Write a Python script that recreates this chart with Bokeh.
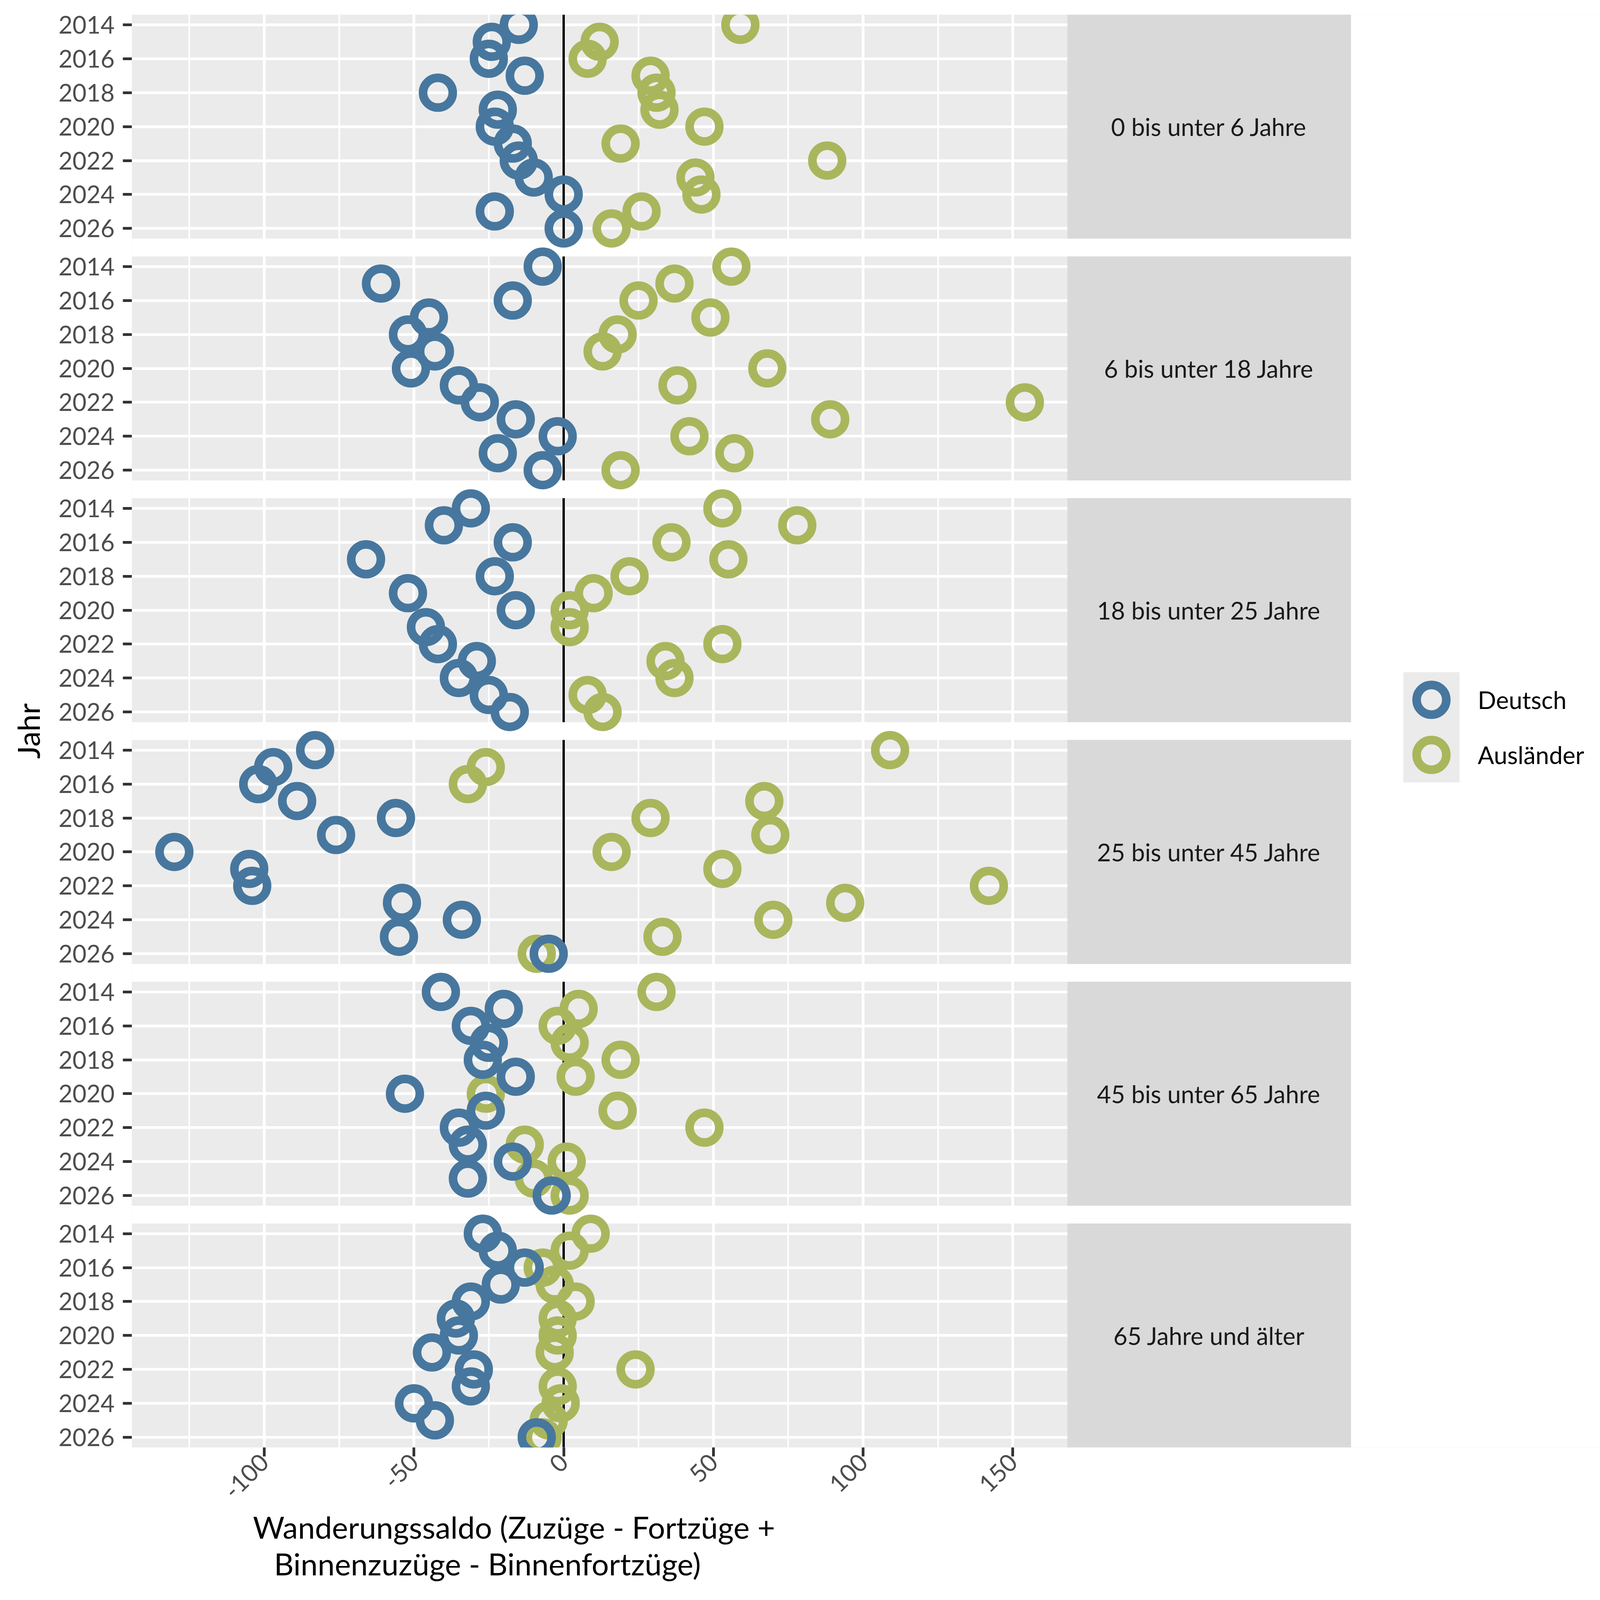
import math
from bokeh.plotting import figure
from bokeh.models import (ColumnDataSource, Range1d, FixedTicker, Legend, LegendItem, Title)
from bokeh.core.properties import value
from bokeh.embed import file_html
from bokeh.resources import INLINE

# ---------------- data ----------------
years = list(range(2014, 2027))
age_groups = ["0 bis unter 6 Jahre", "6 bis unter 18 Jahre", "18 bis unter 25 Jahre",
              "25 bis unter 45 Jahre", "45 bis unter 65 Jahre", "65 Jahre und älter"]
series_names = ["Deutsch", "Ausländer"]

deutsch_0_6 = [-15, -24, -25, -13, -42, -22, -23, -17, -15, -10, 0, -23, 0]
auslaender_0_6 = [59, 12, 8, 29, 31, 32, 47, 19, 88, 44, 46, 26, 16]
deutsch_6_18 = [-7, -61, -17, -45, -52, -43, -51, -35, -28, -16, -2, -22, -7]
auslaender_6_18 = [56, 37, 25, 49, 18, 13, 68, 38, 154, 89, 42, 57, 19]
deutsch_18_25 = [-31, -40, -17, -66, -23, -52, -16, -46, -42, -29, -35, -25, -18]
auslaender_18_25 = [53, 78, 36, 55, 22, 10, 2, 2, 53, 34, 37, 8, 13]
deutsch_25_45 = [-83, -97, -102, -89, -56, -76, -130, -105, -104, -54, -34, -55, -5]
auslaender_25_45 = [109, -26, -32, 67, 29, 69, 16, 53, 142, 94, 70, 33, -9]
deutsch_45_65 = [-41, -20, -31, -25, -27, -16, -53, -26, -35, -32, -17, -32, -4]
auslaender_45_65 = [31, 5, -2, 2, 19, 4, -26, 18, 47, -13, 1, -10, 2]
deutsch_65 = [-27, -22, -13, -21, -31, -36, -35, -44, -30, -31, -50, -43, -9]
auslaender_65 = [9, 2, -7, -3, 4, -2, -2, -3, 24, -2, -1, -5, -7]

deutsch = [deutsch_0_6, deutsch_6_18, deutsch_18_25, deutsch_25_45, deutsch_45_65, deutsch_65]
auslaender = [auslaender_0_6, auslaender_6_18, auslaender_18_25, auslaender_25_45,
              auslaender_45_65, auslaender_65]

tick_years = [2014, 2016, 2018, 2020, 2022, 2024, 2026]
x_ticks = [-100, -50, 0, 50, 100, 150]
x_minor = [-125, -75, -25, 25, 75, 125]

x_title_1 = "Wanderungssaldo (Zuzüge - Fortzüge +"
x_title_2 = "Binnenzuzüge - Binnenfortzüge)"
y_title = "Jahr"

colors = {"Deutsch": "#47779E", "Ausländer": "#AAB65C"}

# ---------------- layout ----------------
FONT = "Lato"
W, H = 4184, 4096
SY = 4113 / 4200            # visible viewport height relative to reference height


def vy(ref_y):
    """reference page y -> canvas y"""
    return ref_y * SY - 8


FL = 337
FT = round(vy(46))
FB = round(vy(3792))
PANEL_W, STRIP_W = 2395, 726
FRAME_W = W - FL            # frame runs to the right edge (legend lives inside it)
FRAME_H = FB - FT
S = 14.25                   # panel pitch in "year" units
Y_TOP = -0.6
Y_BOT = (len(age_groups) - 1) * S + 12.6

all_vals = [v for grp in deutsch + auslaender for v in grp]
dmin, dmax = min(all_vals), max(all_vals)
pad = 0.05 * (dmax - dmin)
x0, x1 = dmin - pad, dmax + pad
ppx = PANEL_W / (x1 - x0)
x_strip_end = x1 + STRIP_W / ppx
x_end = x0 + FRAME_W / ppx
ppy = FRAME_H / (Y_BOT - Y_TOP)


def cx(px):
    return x0 + (px - FL) / ppx


def cy(py):
    return Y_TOP + (py - FT) / ppy


p = figure(width=W, height=H, output_backend="svg", toolbar_location=None,
           x_range=Range1d(x0, x_end), y_range=Range1d(Y_BOT, Y_TOP),
           min_border_left=FL, min_border_right=0,
           min_border_top=FT, min_border_bottom=H - FB,
           background_fill_color="#EBEBEB", border_fill_color="white",
           outline_line_color=None)

# grids
xt = FixedTicker(ticks=x_ticks, minor_ticks=x_minor)
p.xaxis.ticker = xt
p.xgrid.ticker = xt
p.xgrid.grid_line_color = "white"
p.xgrid.grid_line_width = 7
p.xgrid.minor_grid_line_color = "white"
p.xgrid.minor_grid_line_width = 4
p.xaxis.major_label_overrides = {t: str(t) for t in x_ticks}

n = len(age_groups)
ytick_vals = [k * S + (yr - years[0]) for k in range(n) for yr in tick_years]
yt = FixedTicker(ticks=ytick_vals, minor_ticks=[])
p.yaxis.ticker = yt
p.ygrid.ticker = yt
p.ygrid.grid_line_color = "white"
p.ygrid.grid_line_width = 7
p.yaxis.major_label_overrides = {k * S + (yr - years[0]): str(yr)
                                 for k in range(n) for yr in tick_years}

for ax in (p.xaxis[0], p.yaxis[0]):
    ax.axis_line_color = None
    ax.major_tick_line_color = "#333333"
    ax.major_tick_line_width = 7
    ax.major_tick_out = 23
    ax.major_tick_in = 0
    ax.minor_tick_line_color = None
    ax.major_label_text_font = FONT
    ax.major_label_text_font_size = "62px"
    ax.major_label_text_color = "#4D4D4D"
p.yaxis.major_label_standoff = 21
p.xaxis.major_label_standoff = 4
p.xaxis.major_label_orientation = math.pi / 4

p.yaxis.axis_label = y_title
p.yaxis.axis_label_text_font = FONT
p.yaxis.axis_label_text_font_size = "78px"
p.yaxis.axis_label_text_font_style = "normal"
p.yaxis.axis_label_text_color = "black"
p.yaxis.axis_label_standoff = 28

# white area right of the strips (legend area)
p.quad(left=[x_strip_end], right=[x_end], top=[Y_TOP], bottom=[Y_BOT],
       fill_color="white", line_color=None)

# white gaps between panels
gap_src = ColumnDataSource(dict(
    left=[x0] * (n - 1), right=[x_end] * (n - 1),
    top=[k * S + 12.6 for k in range(n - 1)],
    bottom=[(k + 1) * S + Y_TOP for k in range(n - 1)]))
p.quad(left="left", right="right", top="top", bottom="bottom", source=gap_src,
       fill_color="white", line_color=None)

# strips on the right
strip_src = ColumnDataSource(dict(
    left=[x1] * n, right=[x_strip_end] * n,
    top=[k * S + Y_TOP for k in range(n)], bottom=[k * S + 12.6 for k in range(n)],
    tx=[(x1 + x_strip_end) / 2] * n, ty=[k * S + 6 for k in range(n)], label=age_groups))
p.quad(left="left", right="right", top="top", bottom="bottom", source=strip_src,
       fill_color="#D9D9D9", line_color=None)
p.text(x="tx", y="ty", text="label", source=strip_src, text_font=value(FONT),
       text_font_size="62px", text_align="center", text_baseline="middle",
       text_color="#1A1A1A")

# zero line per panel
p.segment(x0=[0] * n, x1=[0] * n, y0=[k * S + Y_TOP for k in range(n)],
          y1=[k * S + 12.6 for k in range(n)], line_color="black", line_width=6)

# legend key background
p.quad(left=[cx(3592)], right=[cx(3736)], top=[cy(vy(1765))], bottom=[cy(vy(2053))],
       fill_color="#EBEBEB", line_color=None)

# points
renderers = {}
for name, groups in (("Ausländer", auslaender), ("Deutsch", deutsch)):
    xs, ys = [], []
    for k, vals in enumerate(groups):
        for yr, v in zip(years, vals):
            xs.append(v)
            ys.append(k * S + (yr - years[0]))
    src = ColumnDataSource(dict(x=xs, y=ys))
    renderers[name] = p.scatter(x="x", y="y", source=src, marker="circle", size=76,
                                fill_color=None, line_color=colors[name], line_width=22)

GB = 190
centers = {"Deutsch": vy(1837), "Ausländer": vy(1981)}
for name in series_names:
    top = centers[name] - GB / 2
    leg = Legend(items=[LegendItem(label=name, renderers=[renderers[name]])],
                 location=(3664 - GB / 2 - FL, FB - top - GB),
                 glyph_width=GB, glyph_height=GB, padding=0, margin=0, spacing=0,
                 label_standoff=24, label_text_font=FONT, label_text_font_size="62px",
                 label_text_color="black", background_fill_alpha=0,
                 border_line_color=None)
    p.add_layout(leg)

# x axis title (two lines, below the axis)
for txt, off, va in ((x_title_1, 310, "bottom"), (x_title_2, 364, "top")):
    p.add_layout(Title(text=txt, align="left", offset=off, vertical_align=va,
                       text_font=FONT, text_font_size="78px", text_font_style="normal",
                       text_color="black", standoff=0), "below")

open("out.html", "w").write(file_html(p, INLINE))
